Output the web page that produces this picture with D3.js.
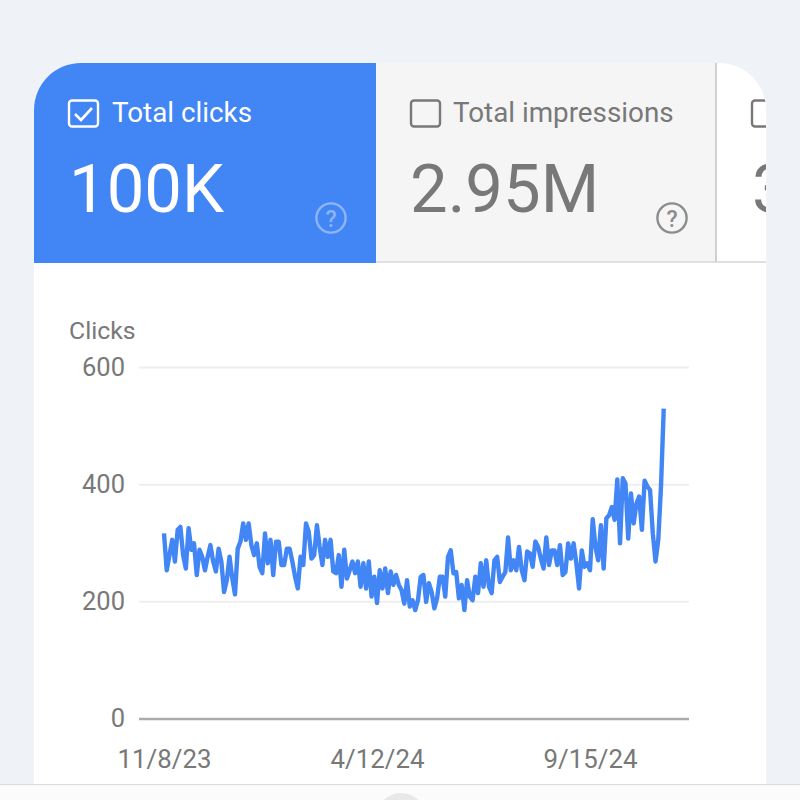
<!DOCTYPE html>
<html lang="en">
  <head>
    <meta charset="UTF-8" />
    <title>Total clicks</title>
    <script src="https://d3js.org/d3.v7.min.js"></script>
    <style>
      body { margin: 0; background: #eff3f8; }
      svg { display: block; font-family: Roboto, sans-serif; }
    </style>
  </head>
  <body>
    <svg id="chart" width="800" height="800"></svg>
    <script>
      // clicks, one reading every two days
      const clicks = [
        316, 253, 279, 305, 268, 322, 327, 279, 256, 325, 288, 299, 245, 288, 276, 253,
        276, 296, 268, 251, 290, 268, 216, 236, 276, 239, 212, 290, 302, 333, 305, 333, 296,
        279, 299, 259, 248, 316, 265, 305, 245, 302, 302, 262, 262, 290, 290, 268, 242,
        222, 276, 262, 333, 319, 273, 279, 330, 293, 262, 305, 276, 305, 251, 248, 279,
        225, 288, 239, 253, 268, 248, 268, 225, 265, 222, 268, 208, 242, 197, 253, 222,
        256, 214, 251, 228, 245, 228, 219, 196, 236, 191, 202, 185, 202, 242, 245, 199,
        231, 216, 188, 205, 242, 242, 208, 276, 287, 248, 250, 205, 228, 185, 236, 208, 202,
        242, 214, 265, 225, 270, 225, 214, 270, 276, 233, 242, 250, 309, 253, 270, 253,
        293, 253, 236, 285, 282, 259, 302, 293, 273, 256, 309, 262, 287, 287, 262, 296,
        245, 250, 299, 273, 299, 265, 222, 287, 259, 265, 253, 340, 293, 270, 330, 256,
        342, 347, 361, 339, 408, 299, 410, 401, 307, 384, 333, 367, 379, 322, 406, 396,
        390, 316, 268, 305, 396, 529
      ];
      const startDate = new Date(2023, 10, 8);
      const xTickDates = [new Date(2023, 10, 8), new Date(2024, 3, 12), new Date(2024, 8, 15)];
      const xTickLabels = ["11/8/23", "4/12/24", "9/15/24"];
      const yTicks = [0, 200, 400, 600];

      const blue = "#4285f4";
      const grey = "#787878";

      const svg = d3.select("#chart");

      // card with rounded top corners, everything in it gets clipped
      const defs = svg.append("defs");
      defs.append("clipPath").attr("id", "card")
        .append("path")
        .attr("d", "M34 784V110A47 47 0 0 1 81 63H719A47 47 0 0 1 766 110V784Z");

      const card = svg.append("g").attr("clip-path", "url(#card)");
      card.append("rect").attr("x", 34).attr("y", 63).attr("width", 732).attr("height", 721).attr("fill", "#fff");
      card.append("rect").attr("x", 34).attr("y", 63).attr("width", 342).attr("height", 200).attr("fill", blue);
      card.append("rect").attr("x", 376).attr("y", 63).attr("width", 340).attr("height", 199).attr("fill", "#f5f5f5");
      card.append("rect").attr("x", 376).attr("y", 261).attr("width", 390).attr("height", 2).attr("fill", "#e0e0e0");
      card.append("rect").attr("x", 715).attr("y", 63).attr("width", 2).attr("height", 199).attr("fill", "#d0d0d0");

      // tab contents
      function checkbox(x, color) {
        card.append("rect")
          .attr("x", x).attr("y", 100.5).attr("width", 29).attr("height", 26).attr("rx", 3)
          .attr("fill", "none").attr("stroke", color).attr("stroke-width", 2.4);
      }
      function helpIcon(cx, color) {
        card.append("circle")
          .attr("cx", cx).attr("cy", 218).attr("r", 14.6)
          .attr("fill", "none").attr("stroke", color).attr("stroke-width", 2.4);
        card.append("text")
          .attr("x", cx).attr("y", 226.5).attr("text-anchor", "middle")
          .attr("font-size", 23).attr("font-weight", 500).attr("fill", color).text("?");
      }
      function tabText(x, y, size, color, label) {
        card.append("text")
          .attr("x", x).attr("y", y)
          .attr("font-size", size).attr("fill", color).text(label);
      }

      checkbox(69, "#fff");
      card.append("path")
        .attr("d", "M75 114L81 120L92 108")
        .attr("fill", "none").attr("stroke", "#fff").attr("stroke-width", 2.6);
      tabText(112, 122, 27.8, "#fff", "Total clicks");
      tabText(69, 212, 67, "#fff", "100K");
      helpIcon(331, "#8fb5f8");

      checkbox(411, grey);
      tabText(453, 122, 27.8, grey, "Total impressions");
      tabText(410, 212, 67, grey, "2.95M");
      helpIcon(672, "#8c8c8c");

      checkbox(752, grey);
      tabText(752, 212, 67, grey, "3");

      // plot
      const x = d3.scaleTime()
        .domain([xTickDates[0], xTickDates[2]])
        .range([164, 590]);
      const y = d3.scaleLinear().domain([0, 600]).range([718.5, 367]);

      const yAxis = card.append("g")
        .attr("transform", "translate(139,0)")
        .call(d3.axisLeft(y).tickValues(yTicks).tickSize(0).tickPadding(14));
      yAxis.select(".domain").remove();
      yAxis.selectAll("text")
        .attr("font-family", "Roboto, sans-serif").attr("font-size", 25.5).attr("fill", grey);
      yAxis.selectAll(".tick line")
        .attr("x2", 550)
        .attr("stroke", d => (d === 0 ? "#ababab" : "#eeeeee"))
        .attr("stroke-width", d => (d === 0 ? 2.6 : 2));

      const xAxis = card.append("g")
        .attr("transform", "translate(0,718.5)")
        .call(d3.axisBottom(x)
          .tickValues(xTickDates)
          .tickSize(0)
          .tickPadding(31)
          .tickFormat((d, i) => xTickLabels[i]));
      xAxis.select(".domain").remove();
      xAxis.selectAll("text")
        .attr("font-family", "Roboto, sans-serif").attr("font-size", 25.8).attr("fill", grey);

      card.append("text")
        .attr("x", 69).attr("y", 339)
        .attr("font-size", 24.8).attr("fill", grey).text("Clicks");

      const line = d3.line()
        .x((d, i) => x(d3.timeDay.offset(startDate, i * 2)))
        .y(d => y(d));

      card.append("path")
        .datum(clicks)
        .attr("fill", "none")
        .attr("stroke", blue)
        .attr("stroke-width", 4.4)
        .attr("stroke-linejoin", "round")
        .attr("d", line);

      // bottom bar of the phone screen
      svg.append("rect").attr("x", 0).attr("y", 784).attr("width", 800).attr("height", 16).attr("fill", "#fbfbfb");
      svg.append("rect").attr("x", 0).attr("y", 784).attr("width", 800).attr("height", 1).attr("fill", "#dcdcdc");
      svg.append("circle").attr("cx", 401).attr("cy", 818).attr("r", 25).attr("fill", "#e8e8e8");
    </script>
  </body>
</html>
